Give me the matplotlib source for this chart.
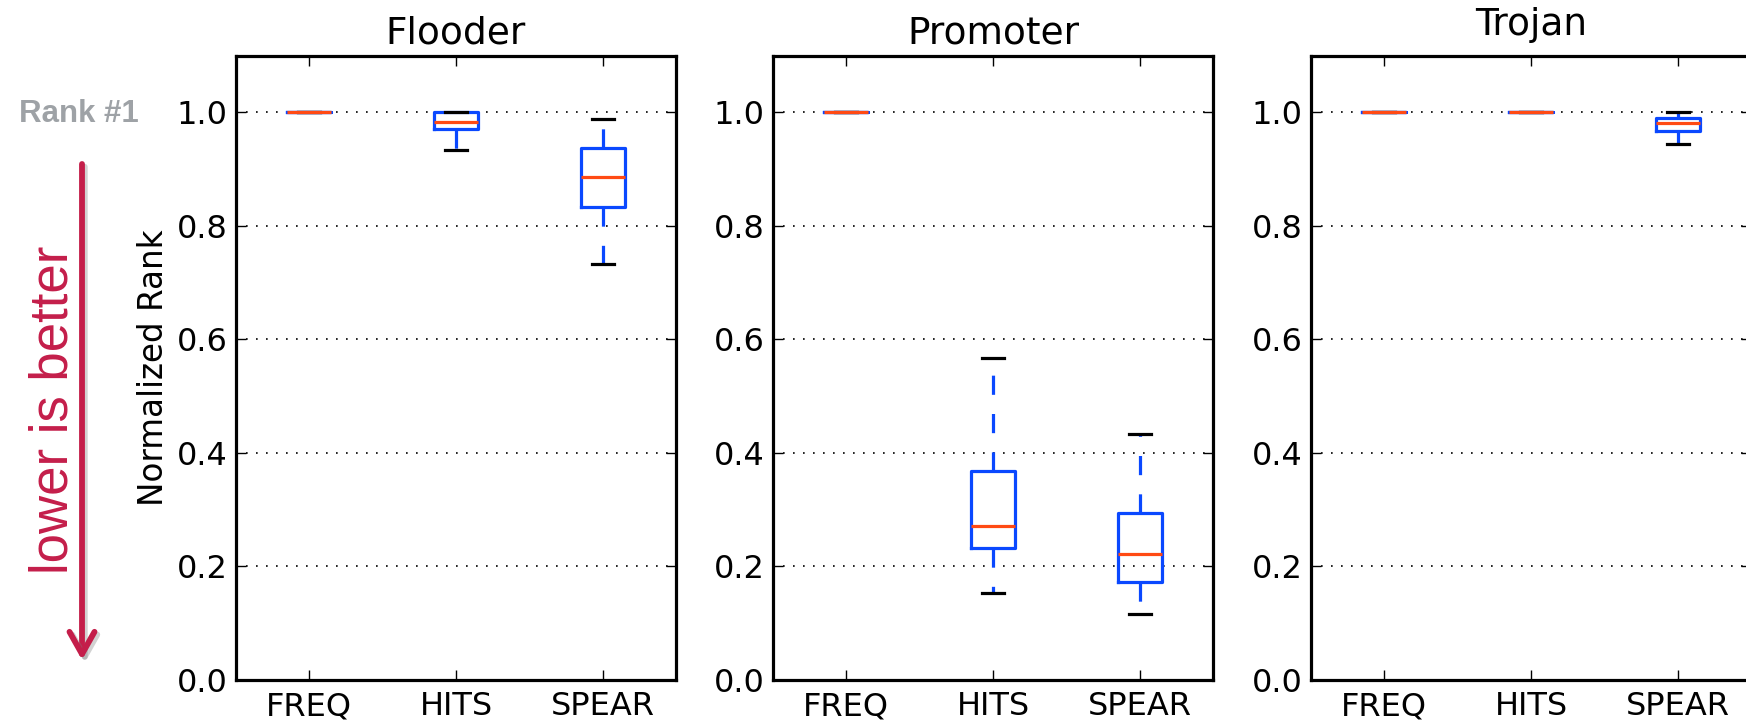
## import libraries ##
import matplotlib
matplotlib.use('Agg')
import matplotlib.pyplot as plt
import matplotlib.patheffects as pe
from matplotlib.patches import FancyArrowPatch


## data ##
methods = ['FREQ', 'HITS', 'SPEAR']
panel_titles = ['Flooder', 'Promoter', 'Trojan']
y_ticks = [0.0, 0.2, 0.4, 0.6, 0.8, 1.0]

flooder_whislo = [1.0, 0.934, 0.733]
flooder_q1 = [1.0, 0.970, 0.833]
flooder_med = [1.0, 0.984, 0.887]
flooder_q3 = [1.0, 1.0, 0.937]
flooder_whishi = [1.0, 1.0, 0.989]

promoter_whislo = [1.0, 0.153, 0.116]
promoter_q1 = [1.0, 0.233, 0.173]
promoter_med = [1.0, 0.271, 0.222]
promoter_q3 = [1.0, 0.368, 0.294]
promoter_whishi = [1.0, 0.568, 0.433]

trojan_whislo = [1.0, 1.0, 0.945]
trojan_q1 = [1.0, 1.0, 0.968]
trojan_med = [1.0, 1.0, 0.982]
trojan_q3 = [1.0, 1.0, 0.990]
trojan_whishi = [1.0, 1.0, 1.0]

panel_data = [
    (flooder_whislo, flooder_q1, flooder_med, flooder_q3, flooder_whishi),
    (promoter_whislo, promoter_q1, promoter_med, promoter_q3, promoter_whishi),
    (trojan_whislo, trojan_q1, trojan_med, trojan_q3, trojan_whishi),
]

## colours ##
box_blue = '#0a48ff'
median_red = '#ff4a14'
crimson = '#c41e4a'
label_gray = '#9ea2a6'

W, H = 1746, 720
fig = plt.figure(figsize=(W / 100, H / 100), dpi=100)

lefts = [236, 773, 1311]
ax_w = 440
ax_bottom, ax_top = 680, 55.7
title_pads = [9, 9, 15]

for i, (title, data) in enumerate(zip(panel_titles, panel_data)):
    ax = fig.add_axes([lefts[i] / W, 1 - ax_bottom / H, ax_w / W, (ax_bottom - ax_top) / H])
    lo, q1, med, q3, hi = data
    stats = [dict(label=m, whislo=lo[k], q1=q1[k], med=med[k], q3=q3[k], whishi=hi[k], fliers=[])
             for k, m in enumerate(methods)]
    ax.bxp(stats, widths=0.3, showfliers=False,
           boxprops=dict(color=box_blue, linewidth=2.3),
           whiskerprops=dict(color=box_blue, linewidth=2.3, linestyle=(0, (6, 6))),
           capprops=dict(color='black', linewidth=2.3),
           medianprops=dict(color=median_red, linewidth=2.3))
    ax.set_ylim(0, 1.1)
    ax.set_xlim(0.5, 3.5)
    ax.set_yticks(y_ticks)
    ax.set_yticklabels(['%.1f' % t for t in y_ticks])
    ax.yaxis.grid(True, color='black', linestyle=(0, (1, 5)), linewidth=1.2)
    ax.set_axisbelow(True)
    ax.tick_params(direction='in', top=True, right=True, length=7, width=1,
                   labelsize=23, pad=6)
    ax.tick_params(axis='x', pad=8)
    for s in ax.spines.values():
        s.set_linewidth(2.3)
    ax.set_title(title, fontsize=27, pad=title_pads[i])
    if i == 0:
        ax.set_ylabel('Normalized Rank', fontsize=23.5, labelpad=5)

## side annotations ##
fig.text(79 / W, 1 - 114 / H, 'Rank #1', family='Liberation Sans', weight='bold',
         fontsize=22.5, color=label_gray, ha='center', va='center')
fig.text(54 / W, 1 - 410 / H, 'lower is better', family='Liberation Sans',
         fontsize=38, color=crimson, rotation=90, ha='center', va='center')
arrow = FancyArrowPatch((82 / W, 1 - 164 / H), (82 / W, 1 - 660 / H),
                        transform=fig.transFigure,
                        arrowstyle='->, head_length=0.8, head_width=0.45',
                        mutation_scale=20, color=crimson, linewidth=4.2,
                        shrinkA=0, shrinkB=0)
arrow.set_path_effects([pe.SimpleLineShadow(offset=(2, -2), shadow_color='gray', alpha=0.35),
                        pe.Normal()])
fig.patches.append(arrow)

plt.savefig('out.png', dpi=100)
